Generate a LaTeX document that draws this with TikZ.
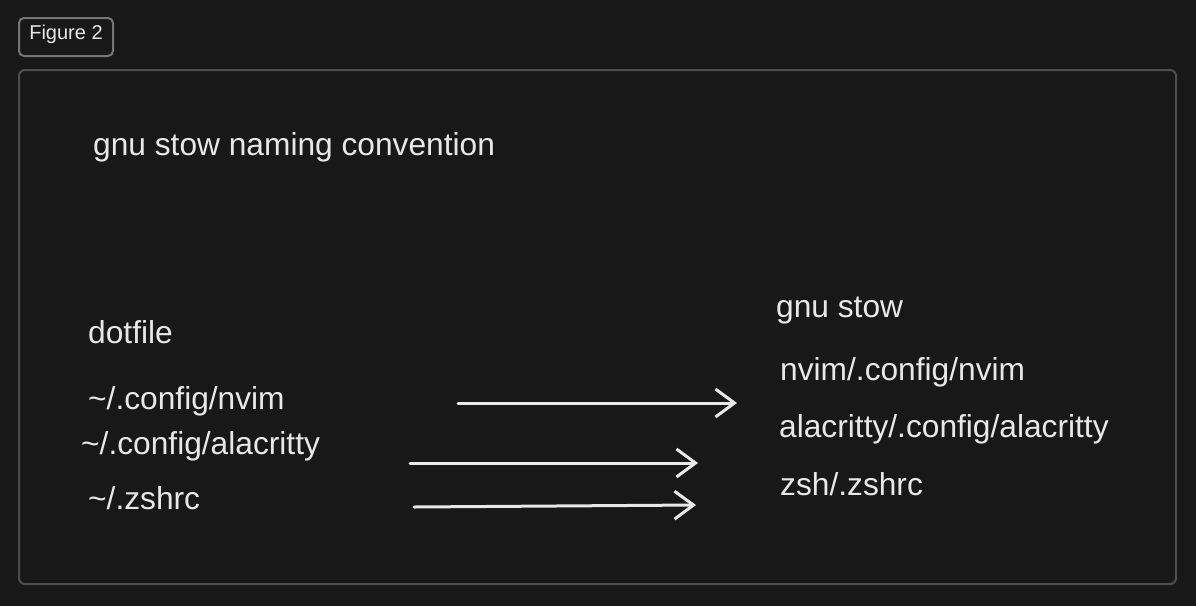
\documentclass[tikz,border=0pt]{standalone}
\usepackage{fontspec}
\setmainfont{Liberation Sans}
\usetikzlibrary{arrows.meta}

\definecolor{bgdark}{RGB}{24,24,24}
\definecolor{framegray}{RGB}{78,78,80}
\definecolor{tagGray}{RGB}{118,118,118}
\definecolor{inkwhite}{RGB}{232,232,232}

\tikzset{
  label/.style={anchor=base west,inner sep=0pt,text=inkwhite,font=\fontsize{31.7}{37}\selectfont},
  maparrow/.style={draw=inkwhite,line width=3pt,line cap=round,
    -{Straight Barb[length=19pt,width=28pt,line width=3pt]}},
}

\begin{document}
\begin{tikzpicture}[x=1pt,y=-1pt]
  \fill[bgdark] (0,0) rectangle (1196,606);
  \useasboundingbox (0,0) rectangle (1196,606);

  % tag and frame
  \draw[tagGray,line width=2pt,rounded corners=5pt] (19,18) rectangle (113,56);
  \node[anchor=base,inner sep=0pt,text=inkwhite,font=\fontsize{20}{24}\selectfont] (tag) at (66,39) {Figure 2};
  \draw[framegray,line width=2pt,rounded corners=6pt] (19,70) rectangle (1176,584);

  \node[label] (title) at (93,155) {gnu stow naming convention};

  % left column
  \node[label] (dot) at (88,343) {dotfile};
  \node[label] (lnvim) at (88,409) {\textasciitilde/.config/nvim};
  \node[label] (lalac) at (81,454) {\textasciitilde/.config/alacritty};
  \node[label] (lzsh) at (88,509) {\textasciitilde/.zshrc};

  % right column
  \node[label] (stow) at (776,317) {gnu stow};
  \node[label] (rnvim) at (780,380) {nvim/.config/nvim};
  \node[label] (ralac) at (779,437) {alacritty/.config/alacritty};
  \node[label] (rzsh) at (780,495) {zsh/.zshrc};

  % arrows
  \coordinate (a1) at (458,403);
  \coordinate (b1) at (737,403);
  \coordinate (a2) at (410,463);
  \coordinate (b2) at (698,463);
  \coordinate (a3) at (414,507);
  \coordinate (b3) at (696,505);
  \draw[maparrow] (a1) -- (b1);
  \draw[maparrow] (a2) -- (b2);
  \draw[maparrow] (a3) -- (b3);
\end{tikzpicture}
\end{document}
